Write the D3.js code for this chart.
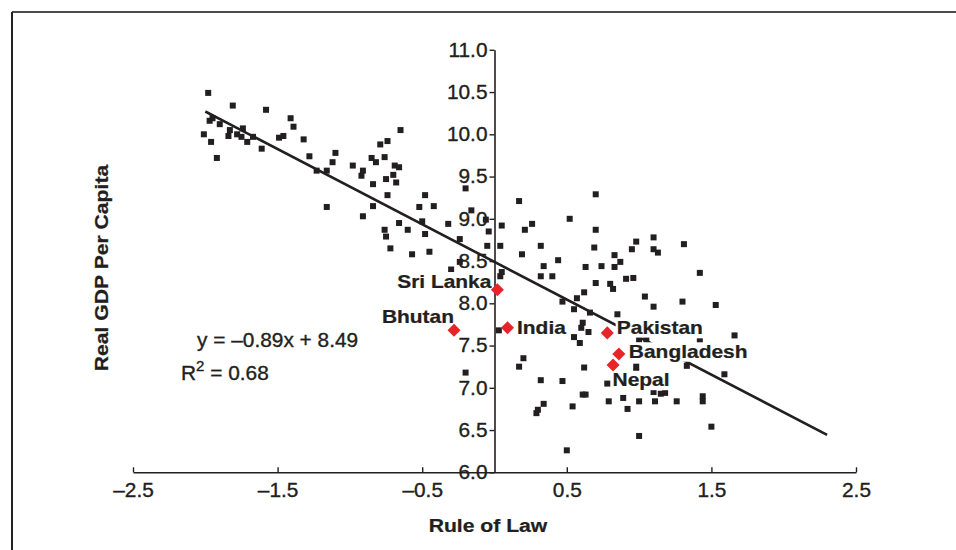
<!DOCTYPE html>
<html>
<head>
<meta charset="utf-8">
<script src="https://cdn.jsdelivr.net/npm/d3@7"></script>
<style>
  body { margin: 0; background: #fff; }
  svg { display: block; font-family: "Liberation Sans", Arial, sans-serif; }
</style>
</head>
<body>
<svg id="chart" width="956" height="550"></svg>
<script>
// Rule of law (x) vs real GDP per capita (y), all countries
const ruleOfLaw = [
  -1.98, -1.81, -1.58, -1.97, -1.95, -1.90, -2.01, -1.96, -1.92, -1.83,
  -1.84, -1.78, -1.74, -1.75, -1.71, -1.67, -1.61, -1.49, -1.46, -1.41,
  -1.39, -1.32, -1.28, -1.23, -1.16, -1.12, -1.10, -1.16, -0.98, -0.91,
  -0.92, -0.85, -0.82, -0.79, -0.74, -0.76, -0.65, -0.69, -0.66, -0.70,
  -0.75, -0.68, -0.84, -0.74, -0.84, -0.91, -0.66, -0.76, -0.75, -0.60,
  -0.72, -0.57, -0.45, -0.52, -0.42, -0.48, -0.50, -0.48, -0.20, -0.16,
  -0.32, -0.06, -0.04, -0.24, -0.24, -0.30, -0.05, 0.04, 0.05, 0.05,
  0.04, 0.17, 0.21, 0.26, 0.19, 0.32, 0.34, 0.32, 0.40, 0.44,
  0.52, 0.47, 0.55, 0.57, 0.62, 0.66, 0.70, 0.70, 0.69, 0.63,
  0.74, 0.70, 0.80, 0.82, 0.83, 0.87, 0.83, 0.91, 0.96, 0.85,
  0.95, 0.98, 1.10, 1.10, 1.13, 1.04, 1.10, 1.30, 1.31, 1.42,
  1.53, 0.61, 0.60, 0.65, 0.55, 0.59, 0.03, 0.20, 0.17, 0.32,
  0.47, 0.62, 0.34, 0.29, 0.30, 0.54, 0.61, 0.63, 0.50, 0.78,
  0.79, 0.89, 0.92, 1.00, 1.05, 0.98, 0.98, 1.00, 1.10, 1.11,
  1.15, 1.18, 1.26, 1.42, 1.33, 1.44, 1.44, 1.50, 1.00, 1.59,
  1.66, -0.20
];
const gdpPerCapita = [
  10.49, 10.34, 10.29, 10.16, 10.19, 10.12, 10.00, 9.91, 9.72, 10.05,
  9.98, 10.00, 10.07, 9.97, 9.91, 9.97, 9.83, 9.96, 9.98, 10.19,
  10.09, 9.94, 9.74, 9.57, 9.57, 9.67, 9.78, 9.14, 9.63, 9.57,
  9.51, 9.72, 9.67, 9.88, 9.92, 9.73, 10.05, 9.63, 9.61, 9.52,
  9.47, 9.43, 9.41, 9.28, 9.15, 9.03, 8.95, 8.87, 8.79, 8.87,
  8.65, 8.58, 8.61, 9.14, 9.15, 9.28, 8.97, 8.82, 9.36, 9.10,
  8.94, 8.99, 8.85, 8.76, 8.49, 8.40, 8.68, 8.32, 8.37, 8.92,
  8.68, 9.21, 8.87, 8.94, 8.58, 8.68, 8.44, 8.32, 8.32, 8.51,
  9.00, 8.02, 7.93, 8.06, 8.13, 7.89, 9.29, 8.87, 8.66, 8.43,
  8.44, 8.24, 8.23, 8.17, 8.57, 8.49, 8.43, 8.29, 8.30, 7.87,
  8.64, 8.73, 8.78, 8.64, 8.60, 8.08, 7.96, 8.02, 8.70, 8.36,
  7.98, 7.77, 7.71, 7.66, 7.60, 7.53, 7.68, 7.35, 7.25, 7.09,
  7.08, 7.24, 6.81, 6.70, 6.74, 6.78, 6.92, 6.92, 6.26, 7.05,
  6.84, 6.88, 6.75, 7.57, 7.57, 7.25, 7.19, 6.84, 6.95, 6.84,
  6.93, 6.94, 6.84, 7.55, 7.26, 6.90, 6.84, 6.54, 6.43, 7.16,
  7.62, 7.18
];

// South Asian countries (highlighted)
const countries   = ["Sri Lanka", "Bhutan", "India", "Pakistan", "Bangladesh", "Nepal"];
const countryLaw  = [0.02, -0.28, 0.09, 0.78, 0.86, 0.82];
const countryGdp  = [8.16, 7.68, 7.71, 7.65, 7.40, 7.27];

// Fitted line
const slope = -0.89, intercept = 8.49, rSquared = "0.68";
const fitRange = [-2.0, 2.3];

const xTicks = [-2.5, -1.5, -0.5, 0.5, 1.5, 2.5];
const yTicks = [6.0, 6.5, 7.0, 7.5, 8.0, 8.5, 9.0, 9.5, 10.0, 10.5, 11.0];

const INK = "#231f20";
const RED = "#e8242b";
const SX_REG = 1.07;   // glyphs in the original are a little wide
const SX_BOLD = 1.15;

// label placement around each diamond (px)
const LABEL_POS = {
  "Sri Lanka":  { anchor: "end",   dx: -6,  dy: -2 },
  "Bhutan":     { anchor: "end",   dx: 0,   dy: -7 },
  "India":      { anchor: "start", dx: 9.5, dy: 6 },
  "Pakistan":   { anchor: "start", dx: 9.5, dy: 1 },
  "Bangladesh": { anchor: "start", dx: 10,  dy: 4 },
  "Nepal":      { anchor: "start", dx: -0.5, dy: 21.5 },
};

const svg = d3.select("#chart");

// text drawn in a horizontally stretched group
function wideText(parent, px, py, str, o) {
  const g = parent.append("g")
    .attr("transform", `translate(${px},${py})${o.rotate ? " rotate(" + o.rotate + ")" : ""} scale(${o.sx},1)`);
  const t = g.append("text")
    .attr("text-anchor", o.anchor || "start")
    .attr("font-size", o.size)
    .attr("font-weight", o.bold ? "bold" : "normal")
    .attr("fill", INK)
    .attr("stroke", INK)
    .attr("stroke-width", o.bold ? 0.25 : 0.35)
    .text(str);
  return { g, t };
}

// frame (only top and left edges are visible)
svg.append("line").attr("x1", 12).attr("y1", 12).attr("x2", 956).attr("y2", 12)
  .attr("stroke", "#4a4a4a").attr("stroke-width", 2);
svg.append("line").attr("x1", 12).attr("y1", 12).attr("x2", 12).attr("y2", 550)
  .attr("stroke", "#222").attr("stroke-width", 2);

const x = d3.scaleLinear().domain([-2.5, 2.5]).range([133, 856]);
const y = d3.scaleLinear().domain([6, 11]).range([472.3, 49.8]);

const fmt = d => (d < 0 ? "\u2013" : "") + d3.format(".1f")(Math.abs(d));

// x axis at y = 6.0, ticks pointing up
const gx = svg.append("g")
  .attr("transform", `translate(0,${y(6)})`)
  .call(d3.axisBottom(x).tickValues(xTicks).tickSizeInner(-5).tickSizeOuter(0)
    .tickPadding(11).tickFormat(fmt));

// y axis at x = 0, ticks pointing left
const gy = svg.append("g")
  .attr("transform", `translate(${x(0)},0)`)
  .call(d3.axisLeft(y).tickValues(yTicks).tickSize(5).tickSizeOuter(0)
    .tickPadding(2).tickFormat(fmt));

[gx, gy].forEach(g => {
  g.select(".domain").attr("stroke", INK).attr("stroke-width", 1.6);
  g.selectAll(".tick line").attr("stroke", INK).attr("stroke-width", 1.4);
  g.selectAll(".tick text")
    .attr("fill", INK)
    .attr("stroke", INK).attr("stroke-width", 0.35)
    .attr("font-size", 19.5)
    .attr("font-family", "Liberation Sans, Arial, sans-serif")
    .attr("transform", `scale(${SX_REG},1)`);
});
gy.selectAll(".tick text").attr("x", -7 / SX_REG);

// axis titles
wideText(svg, 488, 532, "Rule of Law", { sx: SX_BOLD, size: 18.4, bold: true, anchor: "middle" });
wideText(svg, 108, 268, "Real GDP Per Capita", { sx: SX_BOLD, size: 18.4, bold: true, anchor: "middle", rotate: -90 });

// scatter points
const pts = ruleOfLaw.map((v, i) => ({ x: v, y: gdpPerCapita[i] }));
svg.append("g").selectAll("rect")
  .data(pts).enter().append("rect")
  .attr("x", d => x(d.x) - 3)
  .attr("y", d => y(d.y) - 3)
  .attr("width", 6).attr("height", 6)
  .attr("fill", INK);

// regression line
svg.append("line")
  .attr("x1", x(fitRange[0])).attr("y1", y(slope * fitRange[0] + intercept))
  .attr("x2", x(fitRange[1])).attr("y2", y(slope * fitRange[1] + intercept))
  .attr("stroke", INK).attr("stroke-width", 2.6);

// equation + R2
wideText(svg, 197, 347, `y = \u2013${Math.abs(slope).toFixed(2)}x + ${intercept.toFixed(2)}`,
  { sx: SX_REG, size: 19.5 });
const r2 = wideText(svg, 181, 380, "", { sx: SX_REG, size: 19.5 }).t;
r2.append("tspan").text("R");
r2.append("tspan").attr("font-size", 14).attr("dy", -9).text("2");
r2.append("tspan").attr("dy", 9).text(" = " + rSquared);

// country labels with white background boxes
const sa = countries.map((c, i) => ({ name: c, x: countryLaw[i], y: countryGdp[i] }));
const labG = svg.append("g");
sa.forEach(d => {
  const p = LABEL_POS[d.name];
  const { g, t } = wideText(labG, x(d.x) + p.dx, y(d.y) + p.dy, d.name,
    { sx: SX_BOLD, size: 18.2, bold: true, anchor: p.anchor });
  const bb = t.node().getBBox();
  g.insert("rect", "text")
    .attr("x", bb.x - 1).attr("y", bb.y + 1)
    .attr("width", bb.width + 1).attr("height", bb.height - 1)
    .attr("fill", "#fff");
});

// red diamonds on top
svg.append("g").selectAll("path")
  .data(sa).enter().append("path")
  .attr("d", d3.symbol(d3.symbolSquare, 85))
  .attr("transform", d => `translate(${x(d.x)},${y(d.y)}) rotate(45)`)
  .attr("fill", RED);
</script>
</body>
</html>
